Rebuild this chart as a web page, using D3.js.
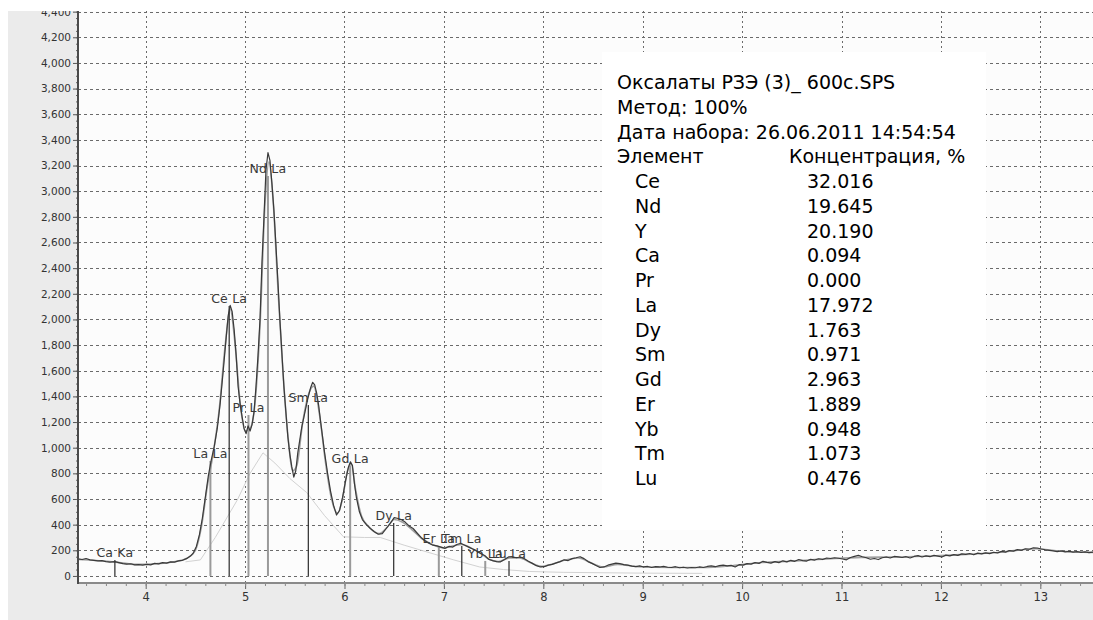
<!DOCTYPE html>
<html>
<head>
<meta charset="utf-8">
<script src="https://cdn.jsdelivr.net/npm/d3@7"></script>
<style>
  html, body { margin: 0; padding: 0; background: #fff; }
  svg { display: block; }
</style>
</head>
<body>
<div id="chart"></div>
<script>
// spectrum counts [keV, counts]
const spectrum = [
  [3.32,133],[3.36,128],[3.40,136],[3.44,125],[3.48,122],[3.52,118],[3.56,120],[3.60,112],[3.64,108],[3.69,112],
  [3.73,104],[3.77,96],[3.81,92],[3.85,95],[3.89,86],[3.93,88],[3.97,84],[4.01,90],[4.05,86],[4.09,98],
  [4.13,94],[4.17,104],[4.21,100],[4.25,110],[4.29,108],[4.33,118],[4.37,122],[4.41,135],[4.45,155],[4.48,180],
  [4.51,230],[4.54,320],[4.57,450],[4.60,615],[4.63,780],[4.66,905],[4.69,1010],[4.72,1150],[4.75,1350],[4.78,1600],
  [4.81,1860],[4.83,2030],[4.85,2110],[4.87,2060],[4.89,1920],[4.91,1720],[4.93,1475],[4.95,1340],[4.97,1240],[4.99,1150],
  [5.01,1110],[5.03,1170],[5.05,1130],[5.07,1180],[5.09,1280],[5.11,1480],[5.13,1720],[5.15,2000],[5.17,2450],[5.19,2800],
  [5.21,3165],[5.23,3300],[5.25,3240],[5.27,3060],[5.29,2850],[5.31,2580],[5.33,2300],[5.35,2000],[5.37,1740],[5.39,1480],
  [5.41,1280],[5.43,1085],[5.45,950],[5.47,850],[5.49,770],[5.51,820],[5.53,960],[5.55,1060],[5.57,1160],[5.60,1270],
  [5.63,1380],[5.66,1470],[5.68,1510],[5.70,1490],[5.72,1425],[5.74,1330],[5.76,1200],[5.78,1080],[5.80,960],[5.83,800],
  [5.86,660],[5.89,550],[5.92,475],[5.95,510],[5.98,610],[6.01,740],[6.04,850],[6.06,890],[6.08,860],[6.10,720],
  [6.12,610],[6.15,500],[6.18,440],[6.22,400],[6.26,370],[6.30,345],[6.34,325],[6.38,330],[6.42,370],[6.46,410],
  [6.50,455],[6.53,450],[6.57,440],[6.61,420],[6.65,390],[6.69,370],[6.73,335],[6.77,300],[6.81,275],[6.85,255],
  [6.89,240],[6.93,235],[6.97,225],[7.01,215],[7.05,230],[7.09,225],[7.13,245],[7.17,255],[7.21,240],[7.25,225],
  [7.29,210],[7.33,195],[7.37,175],[7.41,160],[7.45,130],[7.49,120],[7.53,112],[7.57,110],[7.61,128],[7.65,148],
  [7.69,150],[7.73,142],[7.77,148],[7.81,135],[7.85,115],[7.89,98],[7.93,80],[7.97,70],[8.01,72],[8.05,84],
  [8.09,90],[8.13,102],[8.17,112],[8.21,126],[8.25,120],[8.29,135],[8.33,142],[8.37,150],[8.41,135],[8.45,112],
  [8.49,98],[8.53,82],[8.57,66],[8.61,70],[8.65,84],[8.69,92],[8.73,100],[8.77,96],[8.81,88],[8.85,84],
  [8.89,76],[8.93,72],[8.97,78],[9.01,70],[9.05,74],[9.09,66],[9.13,72],[9.17,70],[9.21,75],[9.25,68],
  [9.29,66],[9.33,72],[9.37,64],[9.41,68],[9.45,62],[9.49,66],[9.53,64],[9.57,70],[9.61,66],[9.65,74],
  [9.69,78],[9.73,72],[9.77,80],[9.81,84],[9.85,78],[9.89,82],[9.93,70],[9.97,88],[10.01,84],[10.05,96],
  [10.09,92],[10.13,104],[10.17,98],[10.21,114],[10.25,106],[10.29,100],[10.33,112],[10.37,104],[10.41,118],[10.45,110],
  [10.49,122],[10.53,114],[10.57,128],[10.61,120],[10.65,116],[10.69,130],[10.73,124],[10.77,134],[10.81,128],[10.85,140],
  [10.89,136],[10.93,142],[10.97,138],[11.01,132],[11.05,126],[11.09,144],[11.13,152],[11.17,160],[11.21,150],[11.25,142],
  [11.29,130],[11.33,136],[11.37,128],[11.41,142],[11.45,148],[11.49,140],[11.53,152],[11.57,149],[11.61,144],[11.65,150],
  [11.69,140],[11.73,152],[11.77,158],[11.81,148],[11.85,156],[11.89,150],[11.93,160],[11.97,154],[12.01,148],[12.05,162],
  [12.09,156],[12.13,166],[12.17,160],[12.21,172],[12.25,168],[12.29,175],[12.33,165],[12.37,178],[12.41,172],[12.45,180],
  [12.49,174],[12.53,185],[12.57,180],[12.61,192],[12.65,186],[12.69,198],[12.73,194],[12.77,205],[12.81,200],[12.85,212],
  [12.89,208],[12.93,220],[12.97,218],[13.01,210],[13.05,204],[13.09,200],[13.13,196],[13.17,190],[13.21,196],[13.25,188],
  [13.29,192],[13.33,186],[13.37,190],[13.41,184],[13.45,188],[13.49,182],[13.53,185]
];

// fitted spectrum (grey)
const fitted = [
  [3.32,128],[3.5,120],[3.7,108],[3.9,90],[4.1,95],[4.3,112],[4.42,140],[4.5,200],[4.56,380],[4.62,700],
  [4.68,960],[4.74,1300],[4.80,1800],[4.85,2080],[4.90,1800],[4.95,1350],[5.00,1130],[5.05,1150],[5.10,1350],[5.15,1950],
  [5.20,2900],[5.24,3230],[5.28,2950],[5.33,2250],[5.38,1600],[5.43,1100],[5.48,820],[5.52,860],[5.58,1200],[5.64,1420],
  [5.69,1480],[5.75,1250],[5.81,880],[5.87,600],[5.93,490],[5.98,600],[6.03,820],[6.07,870],[6.11,680],[6.17,470],
  [6.25,380],[6.35,330],[6.43,380],[6.50,440],[6.58,420],[6.68,360],[6.78,290],[6.9,240],[7.0,220],[7.1,235],
  [7.18,245],[7.28,215],[7.38,170],[7.46,128],[7.55,112],[7.66,140],[7.76,140],[7.88,100],[7.98,75],[8.1,95],
  [8.2,120],[8.35,140],[8.5,95],[8.6,70],[8.75,90],[8.95,72],[9.3,66],[9.6,66],[9.9,80],[10.2,105],
  [10.5,115],[10.9,135],[11.2,145],[11.6,148],[11.9,155],[12.3,170],[12.6,185],[12.95,212],[13.2,193],[13.53,184]
];

// background continuum (light grey)
const background = [
  [4.40,110],[4.55,125],[4.70,300],[4.92,590],[5.05,800],[5.18,960],[5.30,880],[5.45,760],[5.62,650],[5.80,470],
  [5.99,305],[6.20,300],[6.36,300],[6.60,240],[6.86,180],[7.10,125],[7.36,70],[7.60,50],[7.86,35],[8.2,28],
  [8.6,25],[9.0,22],[9.6,20]
];

// element lines
const lineNames = ["Ca Ka","La La","Ce La","Pr La","Nd La","Sm La","Gd La","Dy La","Er La","Tm La","Yb La","Lu La"];
const lineEnergies = [3.69,4.651,4.840,5.034,5.230,5.636,6.057,6.495,6.949,7.180,7.416,7.655];
const lineHeights = [125,897,2105,1255,3119,1333,858,413,234,234,117,117];

const xTicks = [4,5,6,7,8,9,10,11,12,13];
const yTicks = d3.range(0, 4401, 200);

const legendHeader = ["Оксалаты РЗЭ (3)_ 600с.SPS", "Метод: 100%", "Дата набора: 26.06.2011 14:54:54"];
const columnTitles = ["Элемент", "Концентрация, %"];
const elements = ["Ce","Nd","Y","Ca","Pr","La","Dy","Sm","Gd","Er","Yb","Tm","Lu"];
const concentrations = ["32.016","19.645","20.190","0.094","0.000","17.972","1.763","0.971","2.963","1.889","0.948","1.073","0.476"];

const width = 1093, height = 620;
const plotLeft = 78, plotTop = 11, plotRight = 1093, plotBottom = 583;

const svg = d3.select("#chart").append("svg")
  .attr("width", width)
  .attr("height", height)
  .attr("viewBox", [0, 0, width, height]);

svg.append("clipPath").attr("id", "panel")
  .append("rect").attr("x", 8).attr("y", plotTop).attr("width", width - 8).attr("height", height - plotTop);
svg.append("clipPath").attr("id", "plot")
  .append("rect").attr("x", plotLeft).attr("y", plotTop).attr("width", plotRight - plotLeft).attr("height", plotBottom - plotTop);

const g = svg.append("g").attr("clip-path", "url(#panel)");

g.append("rect").attr("x", 8).attr("y", plotTop).attr("width", width - 8).attr("height", height - plotTop).attr("fill", "#ebebeb");
g.append("rect").attr("x", plotLeft).attr("y", plotTop).attr("width", plotRight - plotLeft).attr("height", plotBottom - plotTop).attr("fill", "#fcfcfc");

const x = d3.scaleLinear().domain([3.319, 13.53]).range([plotLeft, plotRight]);
const y = d3.scaleLinear().domain([-55, 4405]).range([plotBottom, plotTop]);

// grid
g.append("g")
  .attr("stroke", "#6a6a6a").attr("stroke-width", 1).attr("stroke-dasharray", "3,3")
  .attr("shape-rendering", "crispEdges")
  .selectAll("line").data(yTicks).join("line")
    .attr("x1", plotLeft).attr("x2", plotRight)
    .attr("y1", d => Math.round(y(d)) + 0.5).attr("y2", d => Math.round(y(d)) + 0.5);

g.append("g")
  .attr("stroke", "#6a6a6a").attr("stroke-width", 1).attr("stroke-dasharray", "2,3")
  .attr("shape-rendering", "crispEdges")
  .selectAll("line").data(xTicks).join("line")
    .attr("x1", d => Math.round(x(d)) + 0.5).attr("x2", d => Math.round(x(d)) + 0.5)
    .attr("y1", plotTop).attr("y2", plotBottom);

// legend box
g.append("rect").attr("x", 602).attr("y", 52).attr("width", 384).attr("height", 478).attr("fill", "#fff");

const plot = g.append("g").attr("clip-path", "url(#plot)");
const line = d3.line().x(d => x(d[0])).y(d => y(d[1]));

plot.append("path").datum(background)
  .attr("fill", "none").attr("stroke", "#d2d2d2").attr("stroke-width", 1)
  .attr("d", line);

plot.append("path").datum(fitted)
  .attr("fill", "none").attr("stroke", "#a0a0a0").attr("stroke-width", 1.6)
  .attr("d", d3.line().curve(d3.curveMonotoneX).x(d => x(d[0])).y(d => y(d[1])));

// element marker lines
const greyLines = new Set(["La La","Pr La","Nd La","Gd La","Er La","Yb La"]);
const lines = lineNames.map((name, i) => ({ name, e: lineEnergies[i], h: lineHeights[i] }));

plot.append("g")
  .selectAll("line").data(lines).join("line")
    .attr("x1", d => x(d.e)).attr("x2", d => x(d.e))
    .attr("y1", y(0)).attr("y2", d => y(d.h))
    .attr("stroke", d => greyLines.has(d.name) ? "#9a9a9a" : "#2a2a2a")
    .attr("stroke-width", d => greyLines.has(d.name) ? 2 : 1.2);

plot.append("path").datum(spectrum)
  .attr("fill", "none").attr("stroke", "#3a3a3a").attr("stroke-width", 1.2)
  .attr("stroke-linejoin", "round")
  .attr("d", line);

plot.append("g")
  .attr("font-family", "DejaVu Sans, sans-serif")
  .attr("font-size", 12.5)
  .attr("fill", "#3a3a3a")
  .attr("text-anchor", "middle")
  .selectAll("text").data(lines).join("text")
    .attr("x", d => x(d.e))
    .attr("y", d => y(d.h) - 3)
    .attr("letter-spacing", 0.2)
    .text(d => d.name);

// legend text
const legend = g.append("g")
  .attr("font-family", "DejaVu Sans, sans-serif")
  .attr("font-size", 19)
  .attr("fill", "#000");

const rowY = i => 89 + i * 24.75;

legend.selectAll("text.h").data(legendHeader).join("text")
  .attr("class", "h")
  .attr("x", 617).attr("y", (d, i) => rowY(i))
  .text(d => d);

legend.append("text").attr("x", 617).attr("y", rowY(3)).text(columnTitles[0]);
legend.append("text").attr("x", 789).attr("y", rowY(3)).text(columnTitles[1]);

legend.selectAll("text.el").data(elements).join("text")
  .attr("class", "el")
  .attr("x", 635).attr("y", (d, i) => rowY(i + 4))
  .text(d => d);

legend.selectAll("text.val").data(concentrations).join("text")
  .attr("class", "val")
  .attr("x", 807).attr("y", (d, i) => rowY(i + 4))
  .text(d => d);

// axes
const yAxis = g.append("g")
  .attr("transform", `translate(${plotLeft},0)`)
  .call(d3.axisLeft(y).tickValues(yTicks).tickFormat(d3.format(",")).tickSize(5).tickPadding(2));
yAxis.select(".domain").remove();
yAxis.selectAll("text").attr("font-family", "DejaVu Sans, sans-serif").attr("font-size", 10.5).attr("fill", "#333");
yAxis.selectAll(".tick line").attr("stroke", "#555");

const yMinor = g.append("g")
  .attr("transform", `translate(${plotLeft},0)`)
  .call(d3.axisLeft(y).tickValues(d3.range(0, 4401, 50)).tickFormat("").tickSize(2));
yMinor.select(".domain").remove();
yMinor.selectAll(".tick line").attr("stroke", "#666");

const xAxis = g.append("g")
  .attr("transform", `translate(0,${plotBottom})`)
  .call(d3.axisBottom(x).tickValues(xTicks).tickFormat(d3.format("d")).tickSize(6).tickPadding(4));
xAxis.select(".domain").remove();
xAxis.selectAll("text").attr("font-family", "DejaVu Sans, sans-serif").attr("font-size", 11.5).attr("fill", "#333");
xAxis.selectAll(".tick line").attr("stroke", "#666");

const xMinor = g.append("g")
  .attr("transform", `translate(0,${plotBottom})`)
  .call(d3.axisBottom(x).tickValues(d3.range(3.4, 13.53, 0.2)).tickFormat("").tickSize(3));
xMinor.select(".domain").remove();
xMinor.selectAll(".tick line").attr("stroke", "#888");

g.append("line").attr("x1", plotLeft).attr("x2", plotRight).attr("y1", plotBottom).attr("y2", plotBottom)
  .attr("stroke", "#8a8a8a").attr("stroke-width", 2);
g.append("line").attr("x1", plotLeft).attr("x2", plotLeft).attr("y1", plotTop).attr("y2", plotBottom + 1)
  .attr("stroke", "#4a4a4a").attr("stroke-width", 2);
</script>
</body>
</html>
